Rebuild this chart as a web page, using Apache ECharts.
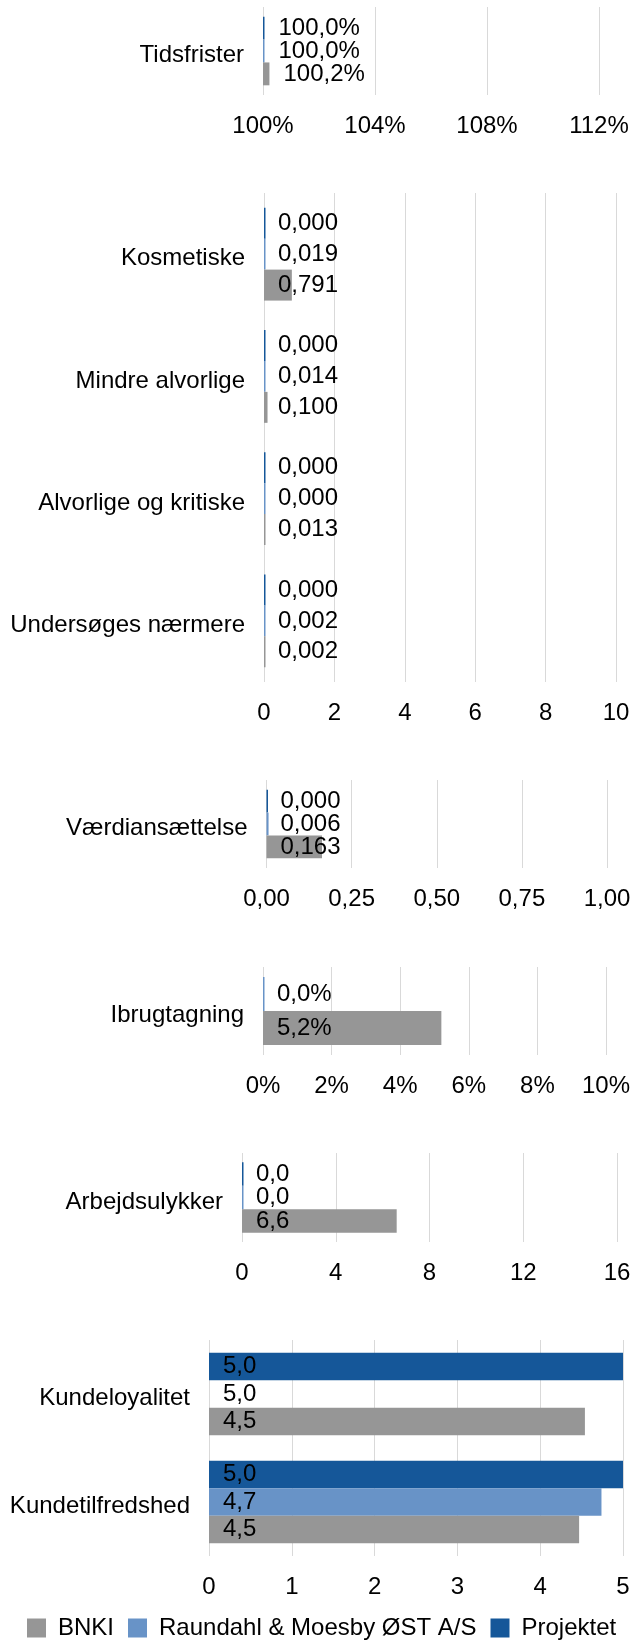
<!DOCTYPE html>
<html>
<head>
<meta charset="utf-8">
<script src="https://cdn.jsdelivr.net/npm/echarts@6/dist/echarts.min.js"></script>
<style>
  html, body { margin: 0; padding: 0; background: #fff; }
  #main { width: 630px; height: 1641px; }
</style>
</head>
<body>
<div id="main"></div>
<script>
var chartDom = document.getElementById('main');
var myChart = echarts.init(chartDom, null, { renderer: 'canvas' });

// legend names (top-to-bottom bar order inside each band is Projektet, Raundahl, BNKI)
var seriesNames = ['BNKI', 'Raundahl & Moesby ØST A/S', 'Projektet'];

// Tidsfrister (%)
var tidsCats = ['Tidsfrister'];
var tidsBnki = [100.23];
var tidsRaundahl = [100.0];
var tidsProjekt = [100.0];

// Mangler
var defectCats = ['Kosmetiske', 'Mindre alvorlige', 'Alvorlige og kritiske', 'Undersøges nærmere'];
var defectBnki = [0.791, 0.100, 0.013, 0.002];
var defectRaundahl = [0.019, 0.014, 0.000, 0.002];
var defectProjekt = [0.000, 0.000, 0.000, 0.000];

// Værdiansættelse
var vaerdiCats = ['Værdiansættelse'];
var vaerdiBnki = [0.163];
var vaerdiRaundahl = [0.006];
var vaerdiProjekt = [0.000];

// Ibrugtagning (%)
var ibrugCats = ['Ibrugtagning'];
var ibrugBnki = [5.2];
var ibrugRaundahl = [0.0];

// Arbejdsulykker
var ulykkeCats = ['Arbejdsulykker'];
var ulykkeBnki = [6.6];
var ulykkeRaundahl = [0.0];
var ulykkeProjekt = [0.0];

// Kunder
var kundeCats = ['Kundeloyalitet', 'Kundetilfredshed'];
var kundeBnki = [4.54, 4.47];
var kundeRaundahl = [5.0, 4.74];
var kundeProjekt = [5.0, 5.0];

var FONT = '"Liberation Sans", Arial, sans-serif';
var FS = 24;
var COLORS = {
    'BNKI': '#969696',
    'Raundahl & Moesby ØST A/S': '#6893c7',
    'Projektet': '#155799'
};

function dec(d, suffix) {
    return function (v) {
        return Number(v).toFixed(d).replace('.', ',') + (suffix || '');
    };
}

var grids = [], xAxes = [], yAxes = [], series = [];

function addPanel(cats, sets, box, ax, labelFmt, gap, labelPos) {
    var i = grids.length;
    grids.push({
        left: box[0], top: box[1], width: box[2], height: box[3],
        containLabel: false, outerBoundsMode: 'none'
    });
    var xa = {
        gridIndex: i, type: 'value',
        min: ax.min, max: ax.max, interval: ax.interval,
        axisLine: { show: false },
        axisTick: { show: false },
        splitLine: { show: true, lineStyle: { color: '#d9d9d9', width: 1 } },
        axisLabel: { color: '#000', fontSize: FS, fontFamily: FONT, margin: 19, formatter: ax.fmt }
    };
    if (ax.min !== 0) xa.startValue = ax.min;
    xAxes.push(xa);
    yAxes.push({
        gridIndex: i, type: 'category', data: cats, inverse: true,
        axisLine: { show: false },
        axisTick: { show: false },
        splitLine: { show: false },
        // category names sit a little below the band centre in the source
        axisLabel: {
            margin: 19,
            formatter: function (v) { return '{c|' + v + '}'; },
            rich: { c: { color: '#000', fontSize: FS, fontFamily: FONT, padding: [9, 0, 0, 0] } }
        }
    });
    sets.forEach(function (s) {
        series.push({
            type: 'bar',
            name: s.name,
            xAxisIndex: i,
            yAxisIndex: i,
            data: s.data,
            barGap: 0,
            barCategoryGap: gap,
            barMinHeight: 1.5,
            clip: true,
            silent: true,
            itemStyle: { color: COLORS[s.name] },
            label: {
                show: true,
                position: labelPos || 'insideLeft',
                distance: 14,
                color: '#000',
                fontSize: FS,
                fontFamily: FONT,
                formatter: function (p) { return labelFmt(p.value); }
            }
        });
    });
}

addPanel(tidsCats, [
    { name: 'Projektet', data: tidsProjekt },
    { name: 'Raundahl & Moesby ØST A/S', data: tidsRaundahl },
    { name: 'BNKI', data: tidsBnki }
], [263, 7, 336, 88], { min: 100, max: 112, interval: 4, fmt: dec(0, '%') }, dec(1, '%'), '22%', 'right');

addPanel(defectCats, [
    { name: 'Projektet', data: defectProjekt },
    { name: 'Raundahl & Moesby ØST A/S', data: defectRaundahl },
    { name: 'BNKI', data: defectBnki }
], [264, 193, 352, 489], { min: 0, max: 10, interval: 2, fmt: dec(0) }, dec(3), '24%');

addPanel(vaerdiCats, [
    { name: 'Projektet', data: vaerdiProjekt },
    { name: 'Raundahl & Moesby ØST A/S', data: vaerdiRaundahl },
    { name: 'BNKI', data: vaerdiBnki }
], [266.5, 780, 340.5, 88], { min: 0, max: 1, interval: 0.25, fmt: dec(2) }, dec(3), '22%');

addPanel(ibrugCats, [
    { name: 'Raundahl & Moesby ØST A/S', data: ibrugRaundahl },
    { name: 'BNKI', data: ibrugBnki }
], [263, 967, 343, 88], { min: 0, max: 10, interval: 2, fmt: dec(0, '%') }, dec(1, '%'), '23%');

addPanel(ulykkeCats, [
    { name: 'Projektet', data: ulykkeProjekt },
    { name: 'Raundahl & Moesby ØST A/S', data: ulykkeRaundahl },
    { name: 'BNKI', data: ulykkeBnki }
], [242, 1153, 375, 89], { min: 0, max: 16, interval: 4, fmt: dec(0) }, dec(1), '21%');

addPanel(kundeCats, [
    { name: 'Projektet', data: kundeProjekt },
    // the Raundahl bar for Kundeloyalitet has no fill in the source, only its label
    { name: 'Raundahl & Moesby ØST A/S', data: kundeRaundahl.map(function (v, i) {
        return i === 0 ? { value: v, itemStyle: { color: 'rgba(0,0,0,0)' } } : v;
    }) },
    { name: 'BNKI', data: kundeBnki }
], [209, 1340, 414, 216], { min: 0, max: 5, interval: 1, fmt: dec(0) }, dec(1), '23.6%');

var option = {
    backgroundColor: '#fff',
    animation: false,
    textStyle: { fontFamily: FONT },
    legend: {
        data: seriesNames,
        left: 22,
        top: 1611,
        padding: 5,
        icon: 'rect',
        itemWidth: 19,
        itemHeight: 19,
        itemGap: 14,
        textStyle: { color: '#000', fontSize: FS, fontFamily: FONT, lineHeight: 24, padding: [0, 0, 0, 7] }
    },
    grid: grids,
    xAxis: xAxes,
    yAxis: yAxes,
    series: series
};

myChart.setOption(option);
</script>
</body>
</html>
